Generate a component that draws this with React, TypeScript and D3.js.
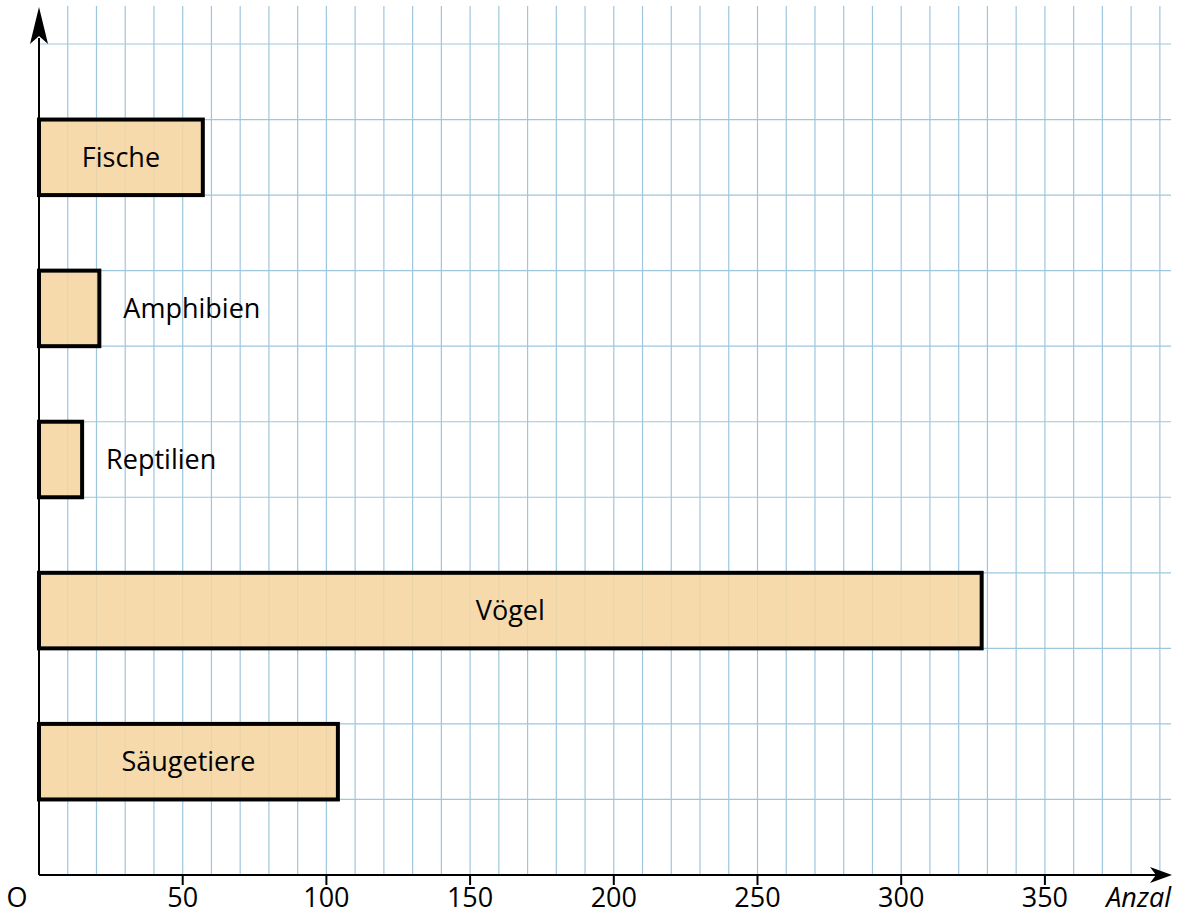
import * as d3 from "d3";

const W = 1184;
const H = 915;

// data
const categories = ["Säugetiere", "Vögel", "Reptilien", "Amphibien", "Fische"];
const counts = [104, 328, 15, 21, 57];
const rowPos = [1, 3, 5, 7, 9]; // lower edge of each bar in grid rows
const insideLabel = [true, true, false, false, true];
const xTicks = [50, 100, 150, 200, 250, 300, 350];

const X0 = 39;
const Y0 = 875;

export default function App() {
  const x = d3.scaleLinear().domain([0, 50]).range([X0, X0 + 143.7]);
  const y = d3.scaleLinear().domain([0, 11]).range([Y0, 44]);

  const vLines = d3.range(10, 391, 10);
  const hLines = d3.range(1, 12);

  const font = "'Open Sans', 'Noto Sans', sans-serif";
  const fs = 27;
  const labelY = 907;

  return (
    <svg
      width={W}
      height={H}
      style={{ position: "absolute", left: 0, top: 0, background: "#fff" }}
    >
      {/* grid */}
      <g stroke="#94c1dc" strokeWidth={1.2} opacity={0.9}>
        {vLines.map((v) => (
          <line key={"v" + v} x1={x(v)} x2={x(v)} y1={6} y2={Y0} />
        ))}
        {hLines.map((h) => (
          <line key={"h" + h} x1={X0} x2={1171} y1={y(h)} y2={y(h)} />
        ))}
      </g>

      {/* bars */}
      {categories.map((c, i) => {
        const x1 = x(counts[i]);
        const yt = y(rowPos[i] + 1);
        const yb = y(rowPos[i]);
        return (
          <g key={c}>
            <rect
              x={X0}
              y={yt}
              width={x1 - X0}
              height={yb - yt}
              fill="#f5d5a0"
              fillOpacity={0.88}
              stroke="#000"
              strokeWidth={4}
            />
            <text
              x={insideLabel[i] ? (X0 + x1) / 2 : x1 + 24}
              y={(yt + yb) / 2}
              dy="0.36em"
              textAnchor={insideLabel[i] ? "middle" : "start"}
              fontFamily={font}
              fontSize={fs}
              fill="#000"
            >
              {c}
            </text>
          </g>
        );
      })}

      {/* axes */}
      <line x1={X0} x2={1158} y1={Y0} y2={Y0} stroke="#000" strokeWidth={2} />
      <line x1={X0} x2={X0} y1={Y0} y2={38} stroke="#000" strokeWidth={2} />
      <path d={`M${X0},7 L${X0 + 9},44 L${X0},36 L${X0 - 9},44 Z`} fill="#000" />
      <path d={`M1172,${Y0} L1150,${Y0 - 8} L1156,${Y0} L1150,${Y0 + 8} Z`} fill="#000" />

      {xTicks.map((t) => (
        <g key={t}>
          <line x1={x(t)} x2={x(t)} y1={Y0} y2={Y0 + 10} stroke="#000" strokeWidth={2} />
          <text
            x={x(t)}
            y={labelY}
            textAnchor="middle"
            fontFamily={font}
            fontSize={fs}
            fill="#000"
          >
            {t}
          </text>
        </g>
      ))}
      <text x={17} y={labelY} textAnchor="middle" fontFamily={font} fontSize={fs} fill="#000">
        O
      </text>
      <text
        x={1171}
        y={labelY}
        textAnchor="end"
        fontFamily={font}
        fontSize={fs}
        fontStyle="italic"
        fill="#000"
      >
        Anzal
      </text>
    </svg>
  );
}
